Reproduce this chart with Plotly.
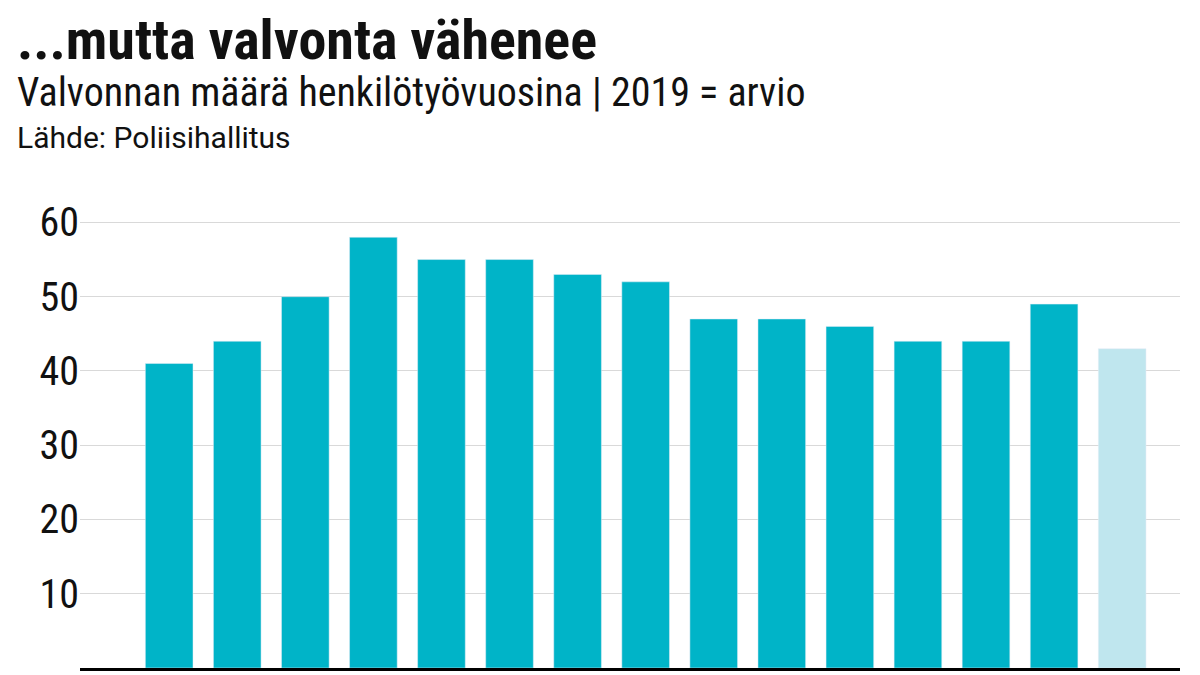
import plotly.graph_objs as go

years = [str(y) for y in range(2005, 2020)]
values = [41, 44, 50, 58, 55, 55, 53, 52, 47, 47, 46, 44, 44, 49, 43]
colors = ['#00b4c8'] * 14 + ['#bfe6ee']

fig = go.Figure(go.Bar(x=list(range(len(years))), y=values, marker_color=colors,
                       width=0.7, hovertext=years))

cond = 'Roboto Condensed, Roboto, sans-serif'
fig.update_layout(
    width=1200, height=675, plot_bgcolor='white', paper_bgcolor='white',
    margin=dict(l=72, r=28, t=207, b=15),
    showlegend=False,
    xaxis=dict(range=[-1.31, 14.85], showticklabels=False, showgrid=False,
               showline=True, linecolor='black', linewidth=3, zeroline=False),
    yaxis=dict(range=[0, 61], tickvals=[0, 10, 20, 30, 40, 50, 60],
               gridcolor='#d9d9d9', zeroline=False, ticks='',
               tickfont=dict(family=cond, size=40, color='#111')),
)
ann = [
    ('<b>...mutta valvonta vähenee</b>', 1.386, 56, cond),
    ('Valvonnan määrä henkilötyövuosina | 2019 = arvio', 1.2715, 40, cond),
    ('Lähde: Poliisihallitus', 1.17, 30, 'Roboto, sans-serif'),
]
for t, y, s, f in ann:
    fig.add_annotation(text=t, xref='paper', yref='paper', x=-0.059, y=y,
                       xanchor='left', yanchor='middle', showarrow=False,
                       font=dict(family=f, size=s, color='#111'))

fig.write_html("out.html")
